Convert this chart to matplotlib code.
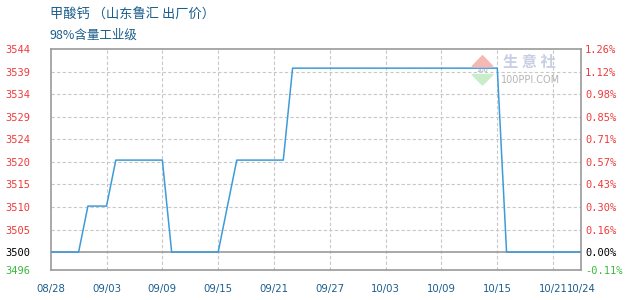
import matplotlib
matplotlib.use('Agg')
import matplotlib.pyplot as plt
from matplotlib.patches import Polygon
import pandas as pd

plt.rcParams['font.family'] = ['Noto Sans CJK SC', 'DejaVu Sans']

# price data (yuan/ton), change points
dates = ['2024-08-28', '2024-08-31', '2024-09-01', '2024-09-03', '2024-09-04',
         '2024-09-09', '2024-09-10', '2024-09-15', '2024-09-16', '2024-09-17',
         '2024-09-22', '2024-09-23', '2024-10-15', '2024-10-16', '2024-10-24']
prices = [3500, 3500, 3510, 3510, 3520,
          3520, 3500, 3500, 3510, 3520,
          3520, 3540, 3540, 3500, 3500]

x_ticks = ['2024-08-28', '2024-09-03', '2024-09-09', '2024-09-15', '2024-09-21',
           '2024-09-27', '2024-10-03', '2024-10-09', '2024-10-15', '2024-10-21',
           '2024-10-24']
x_labels = ['08/28', '09/03', '09/09', '09/15', '09/21', '09/27', '10/03',
            '10/09', '10/15', '10/21', '10/24']

y_ticks = [3496.1, 3500, 3504.9, 3509.8, 3514.7, 3519.6, 3524.5, 3529.4,
           3534.3, 3539.2, 3544.1]
y_labels = ['3496', '3500', '3505', '3510', '3515', '3520', '3524', '3529',
            '3534', '3539', '3544']
pct_labels = ['-0.11%', '0.00%', '0.16%', '0.30%', '0.43%', '0.57%', '0.71%',
              '0.85%', '0.98%', '1.12%', '1.26%']

base = 3500
title_c = '#1b5d8c'
red = '#f03a3a'
green = '#3cb83c'

d = pd.to_datetime(dates)
xt = pd.to_datetime(x_ticks)

fig = plt.figure(figsize=(6.3, 3), dpi=100)
ax = fig.add_axes([50.7 / 630, 30 / 300, (581 - 50.7) / 630, (270 - 49.3) / 300])

ax.set_xlim(xt[0], xt[-1])
ax.set_ylim(y_ticks[0], y_ticks[-1])

# grid
for t in xt[1:-1]:
    ax.axvline(t, color='#c8c8c8', lw=0.8, ls=(0, (3, 2)), zorder=1)
for v in y_ticks[2:-1]:
    ax.axhline(v, color='#c8c8c8', lw=0.8, ls=(0, (3, 2)), zorder=1)
ax.axhline(base, color='#999999', lw=1.2, zorder=2)

ax.plot(d, prices, color='#3d9bd9', lw=1.1, zorder=3)

for s in ax.spines.values():
    s.set_color('#999999')
    s.set_linewidth(1.2)

ax.set_xticks(xt)
ax.set_xticklabels(x_labels, fontsize=7.3, color=title_c, family='DejaVu Sans')
ax.tick_params(axis='x', length=0, pad=10)

ax.set_yticks(y_ticks)
ax.set_yticklabels(y_labels, fontsize=7.5, family='DejaVu Sans Mono', ha='left')
ax.tick_params(axis='y', length=0, pad=33)

ax2 = ax.twinx()
ax2.set_ylim(ax.get_ylim())
ax2.set_yticks(y_ticks)
ax2.set_yticklabels(pct_labels, fontsize=7.5, family='DejaVu Sans Mono')
ax2.tick_params(axis='y', length=0, pad=3)
for s in ax2.spines.values():
    s.set_visible(False)

for lab_list in (ax.get_yticklabels(), ax2.get_yticklabels()):
    for i, lab in enumerate(lab_list):
        if i == 0:
            lab.set_color(green)
        elif i == 1:
            lab.set_color('black')
        else:
            lab.set_color(red)

# titles
fig.text(50 / 630, 1 - 15 / 300, '甲酸钙 （山东鲁汇 出厂价）', fontsize=9.5,
         color=title_c, va='center', ha='left')
fig.text(50 / 630, 1 - 35 / 300, '98%含量工业级', fontsize=9,
         color=title_c, va='center', ha='left')

# watermark
def px(x, y):
    return (x / 630, 1 - y / 300)

fig.patches.append(Polygon([px(472, 66.7), px(493, 66.7), px(482.5, 55.7)],
                           closed=True, color='#f5b8b3', transform=fig.transFigure))
fig.patches.append(Polygon([px(472, 74.5), px(493, 74.5), px(482.5, 85)],
                           closed=True, color='#c9ecc9', transform=fig.transFigure))
fig.text(*px(482.5, 70.5), '100', fontsize=4.5, color='#8f9fc0',
         ha='center', va='center', family='DejaVu Sans')
fig.text(*px(529, 62.5), '生 意 社', fontsize=11, color='#c8cfe2',
         ha='center', va='center', weight='bold')
fig.text(*px(530.5, 80), '100PPI.COM', fontsize=7, color='#b4b4b4',
         ha='center', va='center', family='DejaVu Sans')

fig.savefig('out.png', dpi=100)
